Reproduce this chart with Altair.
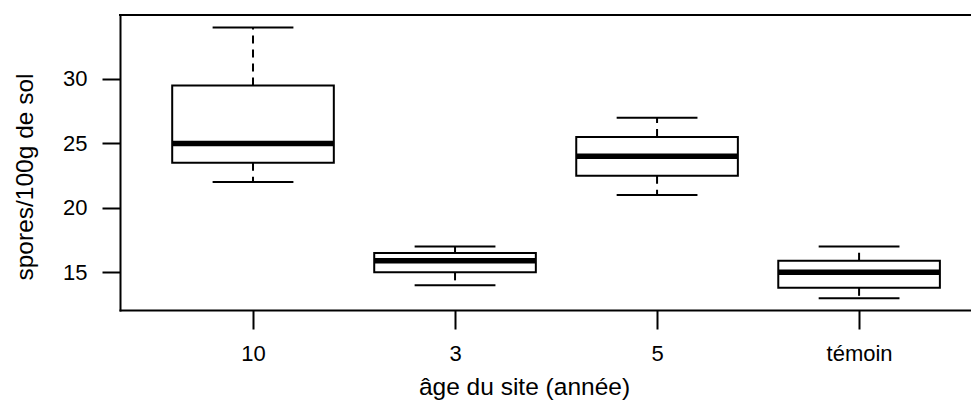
import json
import altair as alt
import pandas as pd

categories = ["10", "3", "5", "témoin"]
positions = [1, 2, 3, 4]
whisker_low = [22, 14, 21, 13]
q1 = [23.5, 15, 22.5, 13.8]
median = [25, 15.9, 24, 15]
q3 = [29.5, 16.5, 25.5, 15.9]
whisker_high = [34, 17, 27, 17]
y_ticks = [15, 20, 25, 30]
x_domain = [0.3416, 4.554]
y_domain = [12.08, 34.96]

df = pd.DataFrame({
    "site": categories,
    "pos": positions,
    "lo": whisker_low,
    "q1": q1,
    "med": median,
    "q3": q3,
    "hi": whisker_high,
})
frame_df = pd.DataFrame({"x0": [x_domain[0]], "x1": [x_domain[1]], "ytop": [y_domain[1]]})

FONT = "Liberation Sans"
xscale = alt.Scale(domain=x_domain, nice=False, zero=False)
yscale = alt.Scale(domain=y_domain, nice=False, zero=False)

label_expr = json.dumps(categories, ensure_ascii=False) + "[datum.value - 1]"

x_axis = alt.Axis(
    title="âge du site (année)",
    values=positions,
    labelExpr=label_expr,
    tickSize=19,
    labelPadding=31,
    labelBaseline="alphabetic",
    labelFlush=False,
    labelOverlap=False,
    titleX=404,
    titleY=84,
    titleAlign="center",
    titleBaseline="alphabetic",
)
y_axis = alt.Axis(
    title="spores/100g de sol",
    values=y_ticks,
    tickSize=18,
    labelPadding=15,
    labelAlign="right",
    labelBaseline="middle",
    labelOverlap=False,
    titleAngle=270,
    titleX=-88,
    titleY=161.5,
    titleAlign="center",
    titleBaseline="alphabetic",
)

base = alt.Chart(df).transform_calculate(
    box_l="datum.pos - 0.4",
    box_r="datum.pos + 0.4",
    cap_l="datum.pos - 0.2",
    cap_r="datum.pos + 0.2",
)

whisk_up = base.mark_rule(color="black", strokeWidth=2, strokeDash=[8, 6]).encode(
    x=alt.X("pos:Q", scale=xscale, axis=x_axis),
    y=alt.Y("q3:Q", scale=yscale, axis=y_axis),
    y2="hi:Q",
)
whisk_lo = base.mark_rule(color="black", strokeWidth=2, strokeDash=[8, 6]).encode(
    x=alt.X("pos:Q", scale=xscale, axis=x_axis),
    y=alt.Y("q1:Q", scale=yscale, axis=y_axis),
    y2="lo:Q",
)
box = base.mark_rect(fill="white", stroke="black", strokeWidth=2).encode(
    x=alt.X("box_l:Q", scale=xscale, axis=x_axis),
    x2="box_r:Q",
    y=alt.Y("q1:Q", scale=yscale, axis=y_axis),
    y2="q3:Q",
)
cap_up = base.mark_rule(color="black", strokeWidth=2).encode(
    x=alt.X("cap_l:Q", scale=xscale, axis=x_axis),
    x2="cap_r:Q",
    y=alt.Y("hi:Q", scale=yscale, axis=y_axis),
)
cap_lo = base.mark_rule(color="black", strokeWidth=2).encode(
    x=alt.X("cap_l:Q", scale=xscale, axis=x_axis),
    x2="cap_r:Q",
    y=alt.Y("lo:Q", scale=yscale, axis=y_axis),
)
med = base.mark_rule(color="black", strokeWidth=5.5).encode(
    x=alt.X("box_l:Q", scale=xscale, axis=x_axis),
    x2="box_r:Q",
    y=alt.Y("med:Q", scale=yscale, axis=y_axis),
)
frame_top = alt.Chart(frame_df).mark_rule(color="black", strokeWidth=2, strokeCap="square").encode(
    x=alt.X("x0:Q", scale=xscale, axis=x_axis),
    x2="x1:Q",
    y=alt.Y("ytop:Q", scale=yscale, axis=y_axis),
)

chart = alt.layer(whisk_up, whisk_lo, box, cap_up, cap_lo, med, frame_top).properties(
    width=851,
    height=295,
    autosize=alt.AutoSizeParams(type="none"),
    padding={"left": 112, "top": 7, "right": 0, "bottom": 90},
    background="white",
).configure_view(stroke=None).configure_axis(
    grid=False,
    domainColor="black",
    domainWidth=2,
    domainCap="square",
    tickColor="black",
    tickWidth=2,
    labelColor="black",
    titleColor="black",
    labelFont=FONT,
    titleFont=FONT,
    labelFontSize=22,
    titleFontSize=24.5,
    titleFontWeight="normal",
)

chart.save("out.html", embed_options={"renderer": "svg", "actions": False})
